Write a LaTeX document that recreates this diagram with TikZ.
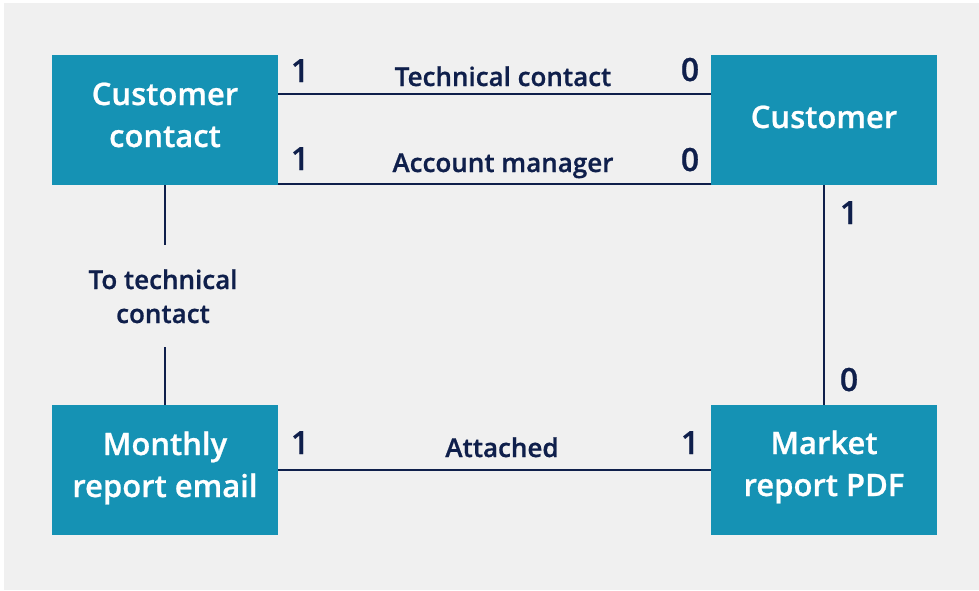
\documentclass[tikz,border=0pt]{standalone}
\usepackage{fontspec}
\IfFontExistsTF{Open Sans Semibold}{%
  \setmainfont{Open Sans Semibold}[RawFeature={embolden=0.7}]\newcommand\wtsel{}\newcommand\szadj{1}}{%
  \setmainfont{Open Sans}\newcommand\wtsel{\bfseries}\newcommand\szadj{0}}
\definecolor{bgc}{HTML}{F0F0F0}
\definecolor{boxc}{HTML}{1592B4}
\definecolor{navy}{HTML}{0F1F4B}
\begin{document}
\begin{tikzpicture}[x=1pt,y=-1pt,
  entity/.style={fill=boxc,draw=none,minimum width=226pt,minimum height=130pt,inner sep=0pt},
  etext/.style={text=white,inner sep=0pt,align=center,anchor=base,
    font=\wtsel\fontsize{\the\numexpr30+\szadj\relax}{42}\selectfont},
  rel/.style={draw=navy,line width=2pt},
  card/.style={text=navy,inner sep=0pt,anchor=base,font=\wtsel\fontsize{32}{32}\selectfont},
  lab/.style={text=navy,inner sep=0pt,align=center,anchor=base,
    font=\wtsel\fontsize{\the\numexpr25+\szadj\relax}{34}\selectfont}]
\useasboundingbox (0,0) rectangle (979,590);
\fill[white] (0,0) rectangle (979,590);
\fill[bgc] (4,3) rectangle (979,590);
% entities
\node[entity] (cc) at (165,120) {};
\node[entity] (cu) at (824,120) {};
\node[entity] (mr) at (165,470) {};
\node[entity] (mp) at (824,470) {};
\node[etext] (cct) at (165,147) {Customer\\contact};
\node[etext] (cut) at (824,128) {Customer};
\node[etext] (mrt) at (165,497) {Monthly\\report email};
\node[etext] (mpt) at (824,496) {Market\\report PDF};
% top relations
\coordinate (t1) at (278,94);
\coordinate (t2) at (711,94);
\coordinate (a1) at (278,184);
\coordinate (a2) at (711,184);
\draw[rel] (cc.east |- t1) -- (cu.west |- t2);
\draw[rel] (cc.east |- a1) -- (cu.west |- a2);
\node[lab] (ltc) at (503,86) {Technical contact};
\node[lab] (lam) at (503,172) {Account manager};
\node[card] (c1) at (300,82) {1};
\node[card] (c2) at (690,81) {0};
\node[card] (c3) at (300,170) {1};
\node[card] (c4) at (690,171) {0};
% attached
\draw[rel] (mr.east) -- (mp.west);
\node[lab] (lat) at (502,457) {Attached};
\node[card] (c5) at (300,454) {1};
\node[card] (c6) at (690,454) {1};
% left vertical
\coordinate (v1) at (165,245);
\coordinate (v2) at (165,347);
\node[lab] (ltt) at (163,323) {To technical\\contact};
\draw[rel] (cc.south) -- (cc.south |- v1);
\draw[rel] (mr.north |- v2) -- (mr.north);
% right vertical
\draw[rel] (cu.south) -- (mp.north);
\node[card] (c7) at (849,224) {1};
\node[card] (c8) at (849,391) {0};
\end{tikzpicture}
\end{document}
